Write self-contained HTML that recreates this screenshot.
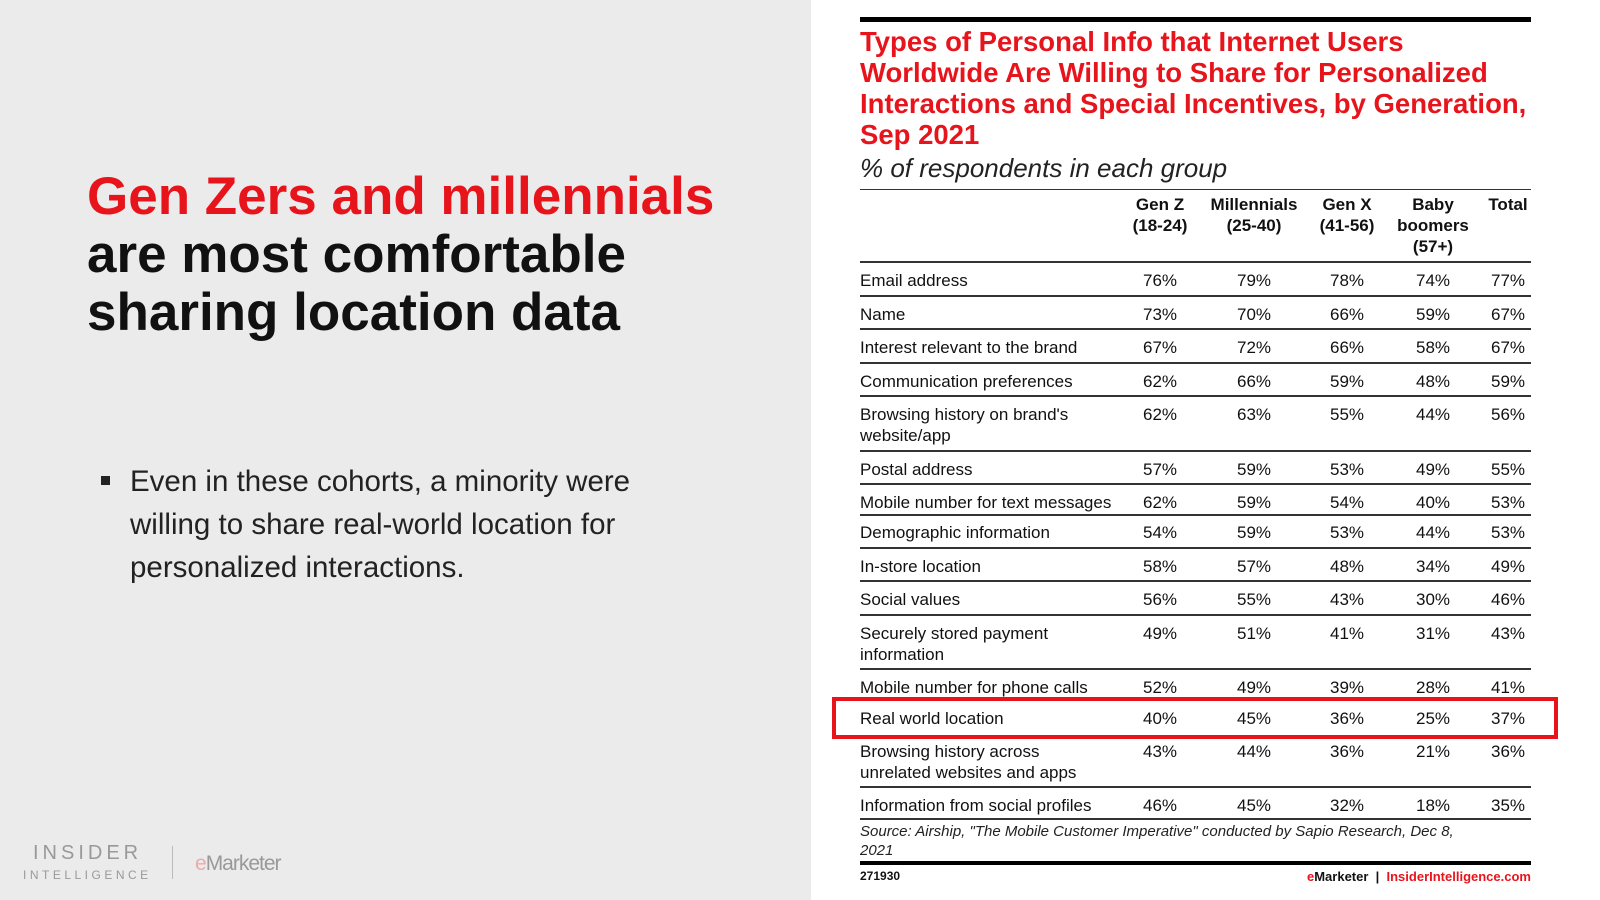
<!DOCTYPE html>
<html><head><meta charset="utf-8"><style>
body{margin:0;width:1600px;height:900px;position:relative;overflow:hidden;background:#fff;font-family:"Liberation Sans",sans-serif;}
.left{position:absolute;left:0;top:0;width:811px;height:900px;background:#ebebeb;}
.h{position:absolute;left:87px;font-weight:bold;font-size:53px;line-height:58px;top:168px;color:#111;}
.h .r{color:#e8141c;}
.b{position:absolute;left:130px;top:460px;font-size:29.5px;line-height:43px;color:#222;width:540px;}
.bul{position:absolute;left:101px;top:476px;width:9px;height:9px;background:#222;}
.a{position:absolute;}
.title{position:absolute;left:860px;top:26px;font-weight:bold;color:#e8141c;font-size:27.5px;line-height:31px;letter-spacing:0px;}
.sub{position:absolute;left:860px;top:153px;font-style:italic;font-size:26px;color:#222;}
.ln{position:absolute;left:860px;width:671px;height:2px;background:#333;}
.row{position:absolute;left:860px;width:671px;font-size:17px;line-height:21px;color:#111;}
.row span{position:absolute;top:0;width:70px;text-align:center;}
.hd{position:absolute;top:194px;font-weight:bold;font-size:17px;line-height:21px;text-align:center;color:#111;}
</style></head><body>
<div class="left"></div>
<div class="h"><span class="r">Gen Zers and millennials</span><br>are most comfortable<br>sharing location data</div>
<div class="bul"></div>
<div class="b">Even in these cohorts, a minority were willing to share real-world location for personalized interactions.</div>
<div class="a" style="left:33px;top:842px;font-size:20px;letter-spacing:4px;color:#999;">INSIDER</div>
<div class="a" style="left:23px;top:868px;font-size:12px;letter-spacing:3.5px;color:#999;">INTELLIGENCE</div>
<div class="a" style="left:172px;top:846px;width:1px;height:33px;background:#bbb;"></div>
<div class="a" style="left:195px;top:852px;font-size:21px;color:#999;letter-spacing:-1px;"><span style="color:#eaa">e</span>Marketer</div>

<div class="a" style="left:860px;top:17px;width:671px;height:5px;background:#000;"></div>
<div class="title">Types of Personal Info that Internet Users<br>Worldwide Are Willing to Share for Personalized<br>Interactions and Special Incentives, by Generation,<br>Sep 2021</div>
<div class="sub">% of respondents in each group</div>
<div class="ln" style="top:189px;height:1px"></div>
<div class="hd" style="left:1120px;width:80px">Gen Z<br>(18-24)</div>
<div class="hd" style="left:1204px;width:100px">Millennials<br>(25-40)</div>
<div class="hd" style="left:1307px;width:80px">Gen X<br>(41-56)</div>
<div class="hd" style="left:1393px;width:80px">Baby<br>boomers<br>(57+)</div>
<div class="hd" style="left:1482px;width:52px">Total</div>

<div class="ln" style="top:261px"></div>
<div class="row" style="top:270px">Email address<span style="left:265px">76%</span><span style="left:359px">79%</span><span style="left:452px">78%</span><span style="left:538px">74%</span><span style="left:613px">77%</span></div>
<div class="ln" style="top:295px"></div>
<div class="row" style="top:304px">Name<span style="left:265px">73%</span><span style="left:359px">70%</span><span style="left:452px">66%</span><span style="left:538px">59%</span><span style="left:613px">67%</span></div>
<div class="ln" style="top:328px"></div>
<div class="row" style="top:337px">Interest relevant to the brand<span style="left:265px">67%</span><span style="left:359px">72%</span><span style="left:452px">66%</span><span style="left:538px">58%</span><span style="left:613px">67%</span></div>
<div class="ln" style="top:362px"></div>
<div class="row" style="top:371px">Communication preferences<span style="left:265px">62%</span><span style="left:359px">66%</span><span style="left:452px">59%</span><span style="left:538px">48%</span><span style="left:613px">59%</span></div>
<div class="ln" style="top:395px"></div>
<div class="row" style="top:404px">Browsing history on brand's<br>website/app<span style="left:265px">62%</span><span style="left:359px">63%</span><span style="left:452px">55%</span><span style="left:538px">44%</span><span style="left:613px">56%</span></div>
<div class="ln" style="top:450px"></div>
<div class="row" style="top:459px">Postal address<span style="left:265px">57%</span><span style="left:359px">59%</span><span style="left:452px">53%</span><span style="left:538px">49%</span><span style="left:613px">55%</span></div>
<div class="ln" style="top:483px"></div>
<div class="row" style="top:492px">Mobile number for text messages<span style="left:265px">62%</span><span style="left:359px">59%</span><span style="left:452px">54%</span><span style="left:538px">40%</span><span style="left:613px">53%</span></div>
<div class="ln" style="top:514px"></div>
<div class="row" style="top:522px">Demographic information<span style="left:265px">54%</span><span style="left:359px">59%</span><span style="left:452px">53%</span><span style="left:538px">44%</span><span style="left:613px">53%</span></div>
<div class="ln" style="top:547px"></div>
<div class="row" style="top:556px">In-store location<span style="left:265px">58%</span><span style="left:359px">57%</span><span style="left:452px">48%</span><span style="left:538px">34%</span><span style="left:613px">49%</span></div>
<div class="ln" style="top:580px"></div>
<div class="row" style="top:589px">Social values<span style="left:265px">56%</span><span style="left:359px">55%</span><span style="left:452px">43%</span><span style="left:538px">30%</span><span style="left:613px">46%</span></div>
<div class="ln" style="top:614px"></div>
<div class="row" style="top:623px">Securely stored payment<br>information<span style="left:265px">49%</span><span style="left:359px">51%</span><span style="left:452px">41%</span><span style="left:538px">31%</span><span style="left:613px">43%</span></div>
<div class="ln" style="top:668px"></div>
<div class="row" style="top:677px">Mobile number for phone calls<span style="left:265px">52%</span><span style="left:359px">49%</span><span style="left:452px">39%</span><span style="left:538px">28%</span><span style="left:613px">41%</span></div>
<div class="ln" style="top:699px"></div>
<div class="row" style="top:708px">Real world location<span style="left:265px">40%</span><span style="left:359px">45%</span><span style="left:452px">36%</span><span style="left:538px">25%</span><span style="left:613px">37%</span></div>
<div class="a" style="left:832px;top:697px;width:718px;height:34px;border:4px solid #e8141c;"></div>
<div class="row" style="top:741px">Browsing history across<br>unrelated websites and apps<span style="left:265px">43%</span><span style="left:359px">44%</span><span style="left:452px">36%</span><span style="left:538px">21%</span><span style="left:613px">36%</span></div>
<div class="ln" style="top:786px"></div>
<div class="row" style="top:795px">Information from social profiles<span style="left:265px">46%</span><span style="left:359px">45%</span><span style="left:452px">32%</span><span style="left:538px">18%</span><span style="left:613px">35%</span></div>
<div class="ln" style="top:818px"></div>
<div class="a" style="left:860px;top:822px;font-size:15px;line-height:19px;font-style:italic;color:#222;">Source: Airship, "The Mobile Customer Imperative" conducted by Sapio Research, Dec 8,<br>2021</div>
<div class="a" style="left:860px;top:861px;width:671px;height:4px;background:#000;"></div>
<div class="a" style="left:860px;top:869px;font-size:12px;font-weight:bold;color:#111;">271930</div>
<div class="a" style="right:69px;top:869px;font-size:13px;font-weight:bold;color:#111;"><span style="color:#e8141c">e</span>Marketer &nbsp;|&nbsp; <span style="color:#e8141c">InsiderIntelligence.com</span></div>
</body></html>
